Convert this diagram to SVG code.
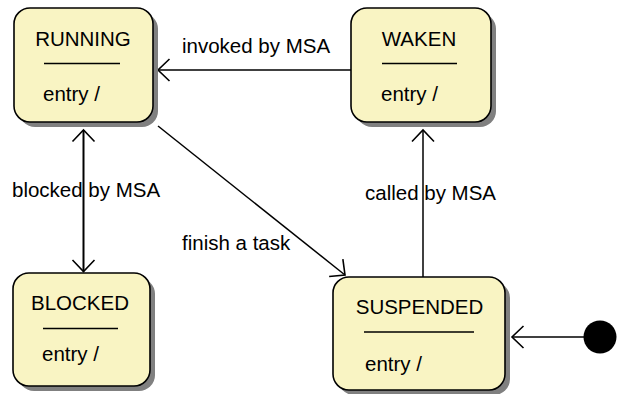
<svg xmlns="http://www.w3.org/2000/svg" width="618" height="394" viewBox="0 0 618 394">
  <style>
    .shadow { fill: #808080; }
    .state { fill: #F9F4C3; stroke: #000; stroke-width: 1.6; }
    .sep { stroke: #000; stroke-width: 1.5; }
    text { font-family: "Liberation Sans", Arial, sans-serif; font-size: 20.5px; fill: #000; }
    .name { text-anchor: middle; }
    .edge { fill: none; stroke: #000; stroke-width: 1.5; }
    .edge.thick { stroke-width: 2; }
  </style>
  <defs>
    <marker id="open" markerUnits="userSpaceOnUse" viewBox="-13 -13 16 26" refX="0" refY="0" markerWidth="16" markerHeight="26" orient="auto-start-reverse">
      <path d="M -11.5 -11 L 0 0 L -11.5 11" fill="none" stroke="#000" stroke-width="1.6"/>
    </marker>
  </defs>
  <rect width="618" height="394" fill="#fff"/>

  <!-- transitions -->
  <g id="connectors">
    <line class="edge" x1="351" y1="70" x2="158" y2="70" marker-end="url(#open)"/>
    <line class="edge thick" x1="83.5" y1="130" x2="83.5" y2="271.5" marker-start="url(#open)" marker-end="url(#open)"/>
    <line class="edge" x1="158" y1="126" x2="345" y2="275" marker-end="url(#open)"/>
    <line class="edge" x1="423" y1="277" x2="423" y2="130" marker-end="url(#open)"/>
    <line class="edge" x1="584" y1="337" x2="512" y2="337" marker-end="url(#open)"/>
    <text x="182" y="53">invoked by MSA</text>
    <text x="12" y="197">blocked by MSA</text>
    <text x="182" y="250">finish a task</text>
    <text x="365" y="200">called by MSA</text>
  </g>

  <g id="running">
    <rect class="shadow" x="19" y="13" width="139" height="114" rx="16"/>
    <rect class="state" x="14" y="8" width="139" height="114" rx="16"/>
    <text class="name" x="83" y="45.5">RUNNING</text>
    <line class="sep" x1="44" y1="63.5" x2="120" y2="63.5"/>
    <text x="43" y="101">entry /</text>
  </g>

  <g id="waken">
    <rect class="shadow" x="356" y="13" width="140" height="114" rx="16"/>
    <rect class="state" x="351" y="8" width="140" height="114" rx="16"/>
    <text class="name" x="419" y="45.5">WAKEN</text>
    <line class="sep" x1="382" y1="63.5" x2="457" y2="63.5"/>
    <text x="381" y="101">entry /</text>
  </g>

  <g id="blocked">
    <rect class="shadow" x="18" y="278" width="137" height="113" rx="16"/>
    <rect class="state" x="13" y="273" width="137" height="113" rx="16"/>
    <text class="name" x="80" y="310">BLOCKED</text>
    <line class="sep" x1="43" y1="328.5" x2="118" y2="328.5"/>
    <text x="42" y="360.5">entry /</text>
  </g>

  <g id="suspended">
    <rect class="shadow" x="338" y="282" width="172" height="113" rx="16"/>
    <rect class="state" x="333" y="277" width="172" height="113" rx="16"/>
    <text class="name" x="419.5" y="314">SUSPENDED</text>
    <line class="sep" x1="364" y1="332" x2="474" y2="332"/>
    <text x="365" y="370.5">entry /</text>
  </g>

  <g id="initial">
    <circle cx="600" cy="337" r="16.5" fill="#000"/>
  </g>
</svg>
